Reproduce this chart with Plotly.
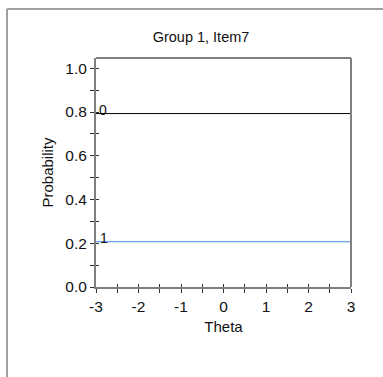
import plotly.graph_objects as go

theta = [-3, -2.5, -2, -1.5, -1, -0.5, 0, 0.5, 1, 1.5, 2, 2.5, 3]
p_cat0 = [0.793] * len(theta)
p_cat1 = [0.207] * len(theta)
x_ticks = [-3, -2, -1, 0, 1, 2, 3]
y_ticks = [0.0, 0.2, 0.4, 0.6, 0.8, 1.0]

FONT = "Liberation Sans, Arial, sans-serif"
AX = "#7f7f7f"
TXT = "#111"

fig = go.Figure()
fig.add_trace(go.Scatter(x=theta, y=p_cat0, mode="lines", line=dict(color="black", width=1), showlegend=False, hoverinfo="skip"))
fig.add_trace(go.Scatter(x=theta, y=p_cat1, mode="lines", line=dict(color="#3b8ee8", width=1), showlegend=False, hoverinfo="skip"))

fig.add_annotation(x=theta[0], y=p_cat0[0], text="0", showarrow=False, xanchor="left", yanchor="bottom", xshift=1, yshift=-6, font=dict(family=FONT, size=14, color=TXT))
fig.add_annotation(x=theta[0], y=p_cat1[0], text="1", showarrow=False, xanchor="left", yanchor="bottom", xshift=2, yshift=-6, font=dict(family=FONT, size=14, color=TXT))

common_x = dict(range=[-3, 3], tickvals=x_ticks, ticktext=[str(v) for v in x_ticks])
common_y = dict(range=[0, 1.047], tickvals=y_ticks, ticktext=[f"{v:.1f}" for v in y_ticks])

fig.update_layout(
    width=383, height=377,
    margin=dict(l=96, r=32, t=58, b=90),
    paper_bgcolor="white", plot_bgcolor="white",
    font=dict(family=FONT, size=15, color=TXT),
    title=dict(text="Group 1, Item7", x=201 / 383, xref="container", xanchor="center", y=1 - 37 / 377, yanchor="middle", font=dict(family=FONT, size=14.5, color=TXT)),
    xaxis=dict(**common_x, showgrid=False, zeroline=False, showline=True, linecolor=AX, linewidth=2,
               ticks="outside", ticklen=4, tickcolor="#333", tickwidth=1,
               minor=dict(dtick=0.5, ticks="outside", ticklen=4, tickcolor="#333", tickwidth=1),
               title=dict(text="Theta", standoff=8, font=dict(family=FONT, size=15)),
               tickfont=dict(family=FONT, size=15.5, color=TXT)),
    yaxis=dict(**common_y, showgrid=False, zeroline=False, showline=True, linecolor=AX, linewidth=2,
               ticks="outside", ticklen=4, tickcolor="#333", tickwidth=1,
               minor=dict(dtick=0.1, ticks="outside", ticklen=4, tickcolor="#333", tickwidth=1),
               title=dict(text="Probability", standoff=8, font=dict(family=FONT, size=15)),
               tickfont=dict(family=FONT, size=15.5, color=TXT)),
    xaxis2=dict(**common_x, overlaying="x", anchor="y", showgrid=False, zeroline=False, showline=False,
                ticks="inside", ticklen=3, tickcolor="#333", showticklabels=False,
                minor=dict(dtick=0.5, ticks="inside", ticklen=3, tickcolor="#333")),
    yaxis2=dict(**common_y, overlaying="y", anchor="x", showgrid=False, zeroline=False, showline=False,
                ticks="inside", ticklen=3, tickcolor="#333", showticklabels=False,
                minor=dict(dtick=0.1, ticks="inside", ticklen=3, tickcolor="#333")),
)
# invisible marker that activates the inner-tick axes
fig.add_trace(go.Scatter(x=[theta[0]], y=[p_cat0[0]], xaxis="x2", yaxis="y2", mode="markers", marker=dict(opacity=0), showlegend=False, hoverinfo="skip"))

# plot frame: top black thin, right gray
fig.add_shape(type="line", xref="paper", yref="paper", x0=0, x1=1, y0=1, y1=1, line=dict(color="black", width=1))
fig.add_shape(type="line", xref="paper", yref="paper", x0=1, x1=1, y0=0, y1=1, line=dict(color=AX, width=2))

# outer panel border (top and left)
pw, ph = 255, 229
fig.add_shape(type="line", xref="paper", yref="paper", x0=(7 - 96) / pw, x1=(390 - 96) / pw, y0=(287 - 9) / ph, y1=(287 - 9) / ph, line=dict(color="#a0a0a0", width=2))
fig.add_shape(type="line", xref="paper", yref="paper", x0=(7 - 96) / pw, x1=(7 - 96) / pw, y0=(287 - 9) / ph, y1=(287 - 390) / ph, line=dict(color="#a0a0a0", width=2))

fig.write_html("out.html", config={"displayModeBar": False, "staticPlot": True},
               post_script="document.body.style.margin='0';document.body.style.overflow='hidden';")
